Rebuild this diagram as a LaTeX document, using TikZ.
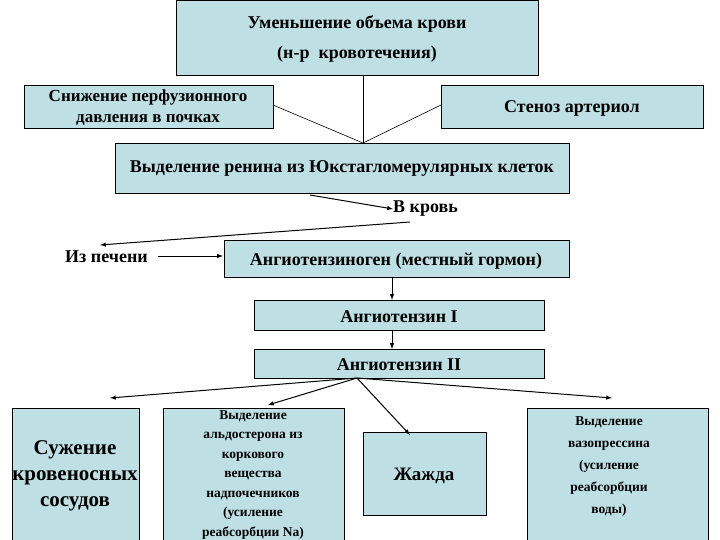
\documentclass[tikz,border=0pt]{standalone}
\usepackage{fontspec}
\setmainfont{Liberation Serif}
\begin{document}
\begin{tikzpicture}[x=1pt,y=-1pt,
 bx/.style={draw=black,fill=boxc,line width=0.6pt},
 tx/.style={font=\bfseries\fontsize{18}{30}\selectfont,align=center,inner sep=0},
 sm/.style={font=\bfseries\fontsize{13.5}{19.5}\selectfont,align=center,inner sep=0},
 ar/.style={-latex,line width=1pt},
 ln/.style={line width=0.6pt}]
\definecolor{boxc}{RGB}{190,224,228}
\useasboundingbox (0,0) rectangle (720,540);
\draw[bx] (176,0) rectangle (538,75); \node[tx] (top) at (357,39) {Уменьшение объема крови\\(н-р \ кровотечения)};
\draw[bx] (24,85) rectangle (273,128); \node[tx,font=\bfseries\fontsize{17}{21}\selectfont] (perf) at (148,108) {Снижение перфузионного\\давления в почках};
\draw[bx] (441,85) rectangle (703,128); \node[tx] (sten) at (572,108) {Стеноз артериол};
\draw[bx] (115,143) rectangle (569,193); \node[tx] (ren) at (342,168) {Выделение ренина из Юкстагломерулярных клеток};
\coordinate (m) at (363,143);
\draw[ln] (363,75) -- (m); \draw[ln] (273,105) -- (m); \draw[ln] (441,105) -- (m);
\node[tx,anchor=west] (kr) at (393,209) {В кровь};
\draw[ar] (310,195) -- (kr.west);
\coordinate (k2) at (410,222);
\node[tx,anchor=west] (pe) at (65,257) {Из печени};
\draw[ar] (k2) -- (100,245);
\draw[bx] (224,240) rectangle (569,277); \node[tx] (ag) at (396,261) {Ангиотензиноген (местный гормон)};
\draw[ar] (158,256) -- (223,256);
\draw[bx] (254,300) rectangle (544,330); \node[tx] (a1) at (399,317) {Ангиотензин I};
\draw[bx] (254,349) rectangle (544,378); \node[tx] (a2) at (399,365) {Ангиотензин II};
\draw[ar] (392,277) -- (392,300);
\draw[ar] (392,330) -- (392,349);
\draw[bx] (12,408) rectangle (139,545); \node[font=\bfseries\fontsize{21}{26}\selectfont,align=center,inner sep=0] (s) at (75,476) {Сужение\\кровеносных\\сосудов};
\draw[bx] (163,408) rectangle (344,545); \node[sm] (al) at (253,475) {Выделение\\альдостерона из\\коркового\\вещества\\надпочечников\\(усиление\\реабсорбции Na)};
\draw[bx] (363,432) rectangle (486,515); \node[font=\bfseries\fontsize{19}{24}\selectfont,inner sep=0] (zh) at (424,476) {Жажда};
\draw[bx] (527,408) rectangle (708,545); \node[sm,font=\bfseries\fontsize{13.5}{22}\selectfont] (va) at (609,467) {Выделение\\вазопрессина\\(усиление\\реабсорбции\\воды)};
\coordinate (o) at (357,378);
\draw[ar] (o) -- (110,398);
\draw[ar] (o) -- (268,405);
\draw[ar] (o) -- (410,435);
\draw[ar] (o) -- (612,398);
\end{tikzpicture}
\end{document}
